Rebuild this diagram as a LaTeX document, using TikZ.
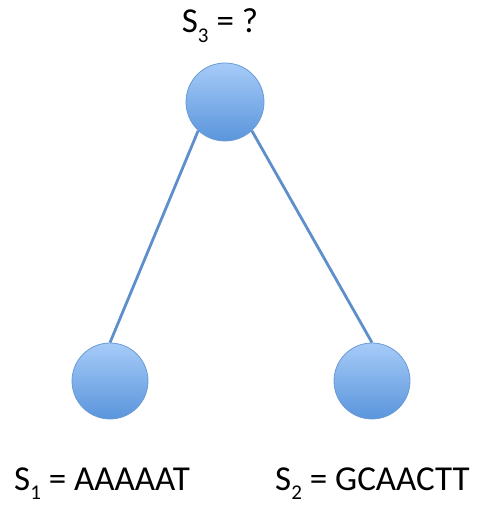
\documentclass[tikz,border=0pt]{standalone}
\usepackage{fontspec}
\setmainfont{Carlito}
\definecolor{ballTop}{HTML}{A6CBF8}
\definecolor{ballBot}{HTML}{5A95DC}
\definecolor{ballRim}{HTML}{6A9BD6}
\definecolor{edgeBlue}{HTML}{5E8FCB}
\newcommand{\lowsub}[1]{\raisebox{-0.28em}{\fontsize{21}{25}\selectfont #1}}
\tikzset{
  ball/.style={circle, minimum size=#1, inner sep=0pt, draw=ballRim, line width=0.8pt,
    top color=ballTop, bottom color=ballBot},
  edge/.style={draw=edgeBlue, line width=2.8pt},
  lbl/.style={font=\fontsize{35}{40}\selectfont, inner sep=0pt, anchor=base west}
}
\begin{document}
\begin{tikzpicture}[x=1pt,y=1pt]
  \useasboundingbox (0,0) rectangle (480,506);
  % tree nodes (y measured upward)
  \node[ball=78pt] (root) at (225,404) {};
  \node[ball=76pt] (left) at (110,125) {};
  \node[ball=76pt] (right) at (372,125) {};
  % edges
  \draw[edge] (root.227) -- (left.north);
  \draw[edge] (root.313) -- (right.north);
  % sequence labels
  \node[lbl, anchor=base] (l3) at (220,473) {S\lowsub{3} = ?};
  \node[lbl] (l1) at (14,16) {S\lowsub{1} = AAAAAT};
  \node[lbl] (l2) at (275,16) {S\lowsub{2} = GCAACTT};
\end{tikzpicture}
\end{document}
